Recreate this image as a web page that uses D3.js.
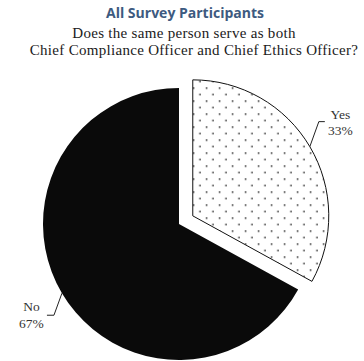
<!DOCTYPE html>
<html>
<head>
<meta charset="utf-8">
<script src="https://cdn.jsdelivr.net/npm/d3@7"></script>
<style>
  html, body { margin: 0; padding: 0; background: #fff; }
  svg { display: block; }
</style>
</head>
<body>
<svg id="chart" width="364" height="361"></svg>
<script>
// Survey answers: share of respondents
const categories = ["Yes", "No"];
const values = [33, 67];
const valueLabels = ["33%", "67%"];

const title = "All Survey Participants";
const subtitleLines = [
  "Does the same person serve as both",
  "Chief Compliance Officer and Chief Ethics Officer?"
];

const W = 364, H = 361;
const cx = 179, cy = 224, radius = 136;
const explode = 16; // pull-out distance of the "Yes" slice

const svg = d3.select("#chart");

// Dotted fill for the "Yes" slice
const defs = svg.append("defs");
const pat = defs.append("pattern")
  .attr("id", "dots")
  .attr("patternUnits", "userSpaceOnUse")
  .attr("x", 195).attr("y", 183.5)
  .attr("width", 13).attr("height", 13);
pat.append("rect").attr("width", 13).attr("height", 13).attr("fill", "#fff");
pat.append("rect").attr("x", 0).attr("y", 0).attr("width", 1.5).attr("height", 1.5).attr("fill", "#222");
pat.append("rect").attr("x", 6.5).attr("y", 6.5).attr("width", 1.5).attr("height", 1.5).attr("fill", "#222");

// Titles
svg.append("text")
  .attr("x", 185).attr("y", 18)
  .attr("text-anchor", "middle")
  .attr("font-family", "'Open Sans', sans-serif")
  .attr("font-weight", "bold")
  .attr("font-size", 14)
  .attr("fill", "#3d5a80")
  .text(title);

const subX = [184, 194];
const subY = [38, 55];
subtitleLines.forEach((t, i) => {
  svg.append("text")
    .attr("x", subX[i]).attr("y", subY[i])
    .attr("text-anchor", "middle")
    .attr("font-family", "'Liberation Serif', serif")
    .attr("font-size", 15)
    .attr("letter-spacing", 0.3)
    .attr("fill", "#1a1a1a")
    .text(t);
});

// Pie
const data = categories.map((c, i) => ({ cat: c, value: values[i], label: valueLabels[i] }));
const pie = d3.pie().sort(null).value(d => d.value);
const arcs = pie(data);
const arc = d3.arc().innerRadius(0).outerRadius(radius);

const g = svg.append("g").attr("transform", `translate(${cx},${cy})`);

function offsetOf(d) {
  if (d.data.cat !== "Yes") return [0, 0];
  const a = (d.startAngle + d.endAngle) / 2;
  return [Math.sin(a) * explode, -Math.cos(a) * explode];
}

g.selectAll("path.slice")
  .data(arcs)
  .join("path")
  .attr("class", "slice")
  .attr("transform", d => { const o = offsetOf(d); return `translate(${o[0]},${o[1]})`; })
  .attr("d", arc)
  .attr("fill", d => d.data.cat === "Yes" ? "url(#dots)" : "#0a0a0a")
  .attr("stroke", d => d.data.cat === "Yes" ? "#111" : "none")
  .attr("stroke-width", 1);

// Leader lines and labels
const leader = {
  Yes: { bend: [9, -25], run: 6, side: 1 },
  No:  { bend: [-8, 22], run: -7, side: -1 }
};

arcs.forEach(d => {
  const o = offsetOf(d);
  const a = (d.startAngle + d.endAngle) / 2;
  const p0 = [o[0] + Math.sin(a) * radius, o[1] - Math.cos(a) * radius];
  const L = leader[d.data.cat];
  const p1 = [p0[0] + L.bend[0], p0[1] + L.bend[1]];
  const p2 = [p1[0] + L.run, p1[1]];
  g.append("path")
    .attr("d", d3.line()([p0, p1, p2]))
    .attr("fill", "none")
    .attr("stroke", "#222")
    .attr("stroke-width", 1);

  const tx = p2[0] + L.side * 15.5;
  const lines = [d.data.cat, d.data.label];
  const baseY = d.data.cat === "Yes" ? p2[1] - 3 : p2[1] - 4;
  lines.forEach((t, i) => {
    g.append("text")
      .attr("x", tx)
      .attr("y", baseY + i * 16.5)
      .attr("text-anchor", "middle")
      .attr("font-family", "'Liberation Serif', serif")
      .attr("font-size", 13.5)
      .attr("fill", "#333")
      .text(t);
  });
});
</script>
</body>
</html>
